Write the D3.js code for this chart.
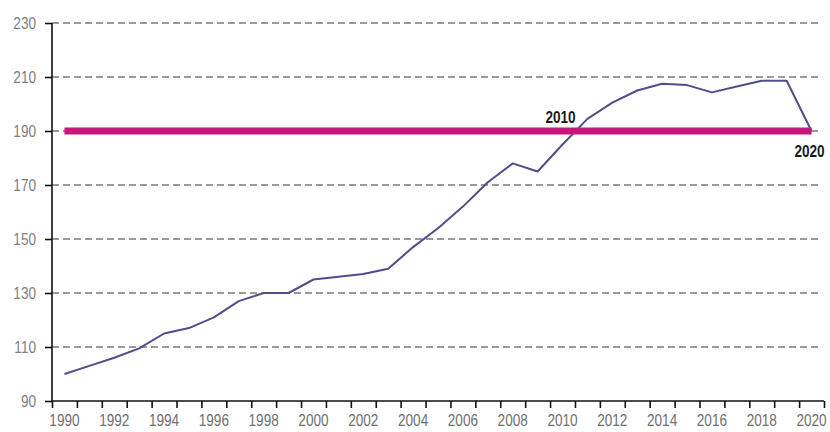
<!DOCTYPE html>
<html>
<head>
<meta charset="utf-8">
<script src="https://cdn.jsdelivr.net/npm/d3@7/dist/d3.min.js"></script>
<style>
  html, body { margin: 0; padding: 0; background: #fff; }
  svg { display: block; }
  .narrow { font-family: "Liberation Sans Narrow", "Arial Narrow", "Liberation Sans", Arial, sans-serif; }
</style>
</head>
<body>
<svg id="chart" width="830" height="432"></svg>
<script>
const years = d3.range(1990, 2021).map(String);
const values = [100, 103, 106, 109.5, 115, 117, 121, 127, 130, 130,
                135, 136, 137, 139, 147, 154, 162, 171, 178, 175,
                185, 194.5, 200.5, 205, 207.5, 207, 204.3, 206.5, 208.6, 208.6,
                190];
const yTicks = [90, 110, 130, 150, 170, 190, 210, 230];
const xLabels = d3.range(1990, 2021, 2).map(String);
const refLevel = 190;
const refYears = ["1990", "2020"];
const annotations = [{ year: "2010", label: "2010" }, { year: "2020", label: "2020" }];

(function () {
const svg = d3.select("#chart");
const mLeft = 52, mRight = 824, mTop = 23, mBottom = 401;
const SX = 0.8; // horizontal condensing to mimic a narrow face

const x = d3.scaleBand().domain(years).range([mLeft, mRight]).padding(0);
const xEdge = d3.scaleLinear().domain([1990, 2021]).range([mLeft, mRight]);
const y = d3.scaleLinear().domain([90, 230]).range([mBottom, mTop]);
const cx = d => x(d) + x.bandwidth() / 2;

// gridlines
svg.append("g").selectAll("line")
  .data(yTicks.filter(t => t > 90))
  .join("line")
  .attr("x1", mLeft).attr("x2", 822)
  .attr("y1", d => y(d)).attr("y2", d => y(d))
  .attr("stroke", "#7a7a7a").attr("stroke-width", 1.4)
  .attr("stroke-dasharray", "7,4");

// y axis
const yAxis = svg.append("g")
  .attr("transform", `translate(${mLeft},0)`)
  .call(d3.axisLeft(y).tickValues(yTicks).tickSize(7).tickPadding(9));
yAxis.select(".domain").remove();
yAxis.selectAll(".tick line").attr("stroke", "#111").attr("stroke-width", 1.6);
yAxis.selectAll("text").attr("class", "narrow").attr("font-size", 17).attr("fill", "#808080")
  .attr("x", -16 / SX).attr("transform", `scale(${SX},1)`);
svg.append("line").attr("x1", mLeft).attr("x2", mLeft).attr("y1", y(230)).attr("y2", mBottom)
  .attr("stroke", "#111").attr("stroke-width", 1.6);

// x axis tick marks at band edges
const xTickAxis = svg.append("g")
  .attr("transform", `translate(0,${mBottom})`)
  .call(d3.axisBottom(xEdge).tickValues(d3.range(1990, 2022)).tickSize(7).tickFormat(""));
xTickAxis.select(".domain").remove();
xTickAxis.selectAll(".tick line").attr("stroke", "#111").attr("stroke-width", 1.6);
svg.append("line").attr("x1", mLeft).attr("x2", mRight).attr("y1", mBottom).attr("y2", mBottom)
  .attr("stroke", "#111").attr("stroke-width", 1.6);

// x labels
const xAxis = svg.append("g")
  .attr("transform", `translate(0,${mBottom})`)
  .call(d3.axisBottom(x).tickValues(xLabels).tickSize(0).tickPadding(13));
xAxis.select(".domain").remove();
xAxis.selectAll("text").attr("class", "narrow").attr("font-size", 17).attr("fill", "#707070")
  .attr("transform", `scale(${SX},1)`);

// data line
svg.append("path")
  .datum(years.map((yr, i) => [yr, values[i]]))
  .attr("fill", "none")
  .attr("stroke", "#4e4e8c")
  .attr("stroke-width", 2)
  .attr("stroke-linejoin", "round")
  .attr("d", d3.line().x(d => cx(d[0])).y(d => y(d[1])));

// reference line
svg.append("line")
  .attr("x1", cx(refYears[0])).attr("x2", cx(refYears[1]))
  .attr("y1", y(refLevel)).attr("y2", y(refLevel))
  .attr("stroke", "#c4187c").attr("stroke-width", 7);

// annotations
const ann = [
  { a: annotations[0], dx: -2, dy: -8 },
  { a: annotations[1], dx: -2, dy: 26 }
];
ann.forEach(o => {
  svg.append("text").attr("class", "narrow")
    .attr("transform", `translate(${cx(o.a.year) + o.dx},${y(refLevel) + o.dy}) scale(${SX},1)`)
    .attr("text-anchor", "middle").attr("font-size", 17).attr("font-weight", "bold")
    .attr("fill", "#1a1a1a").text(o.a.label);
});
})();
</script>
</body>
</html>
